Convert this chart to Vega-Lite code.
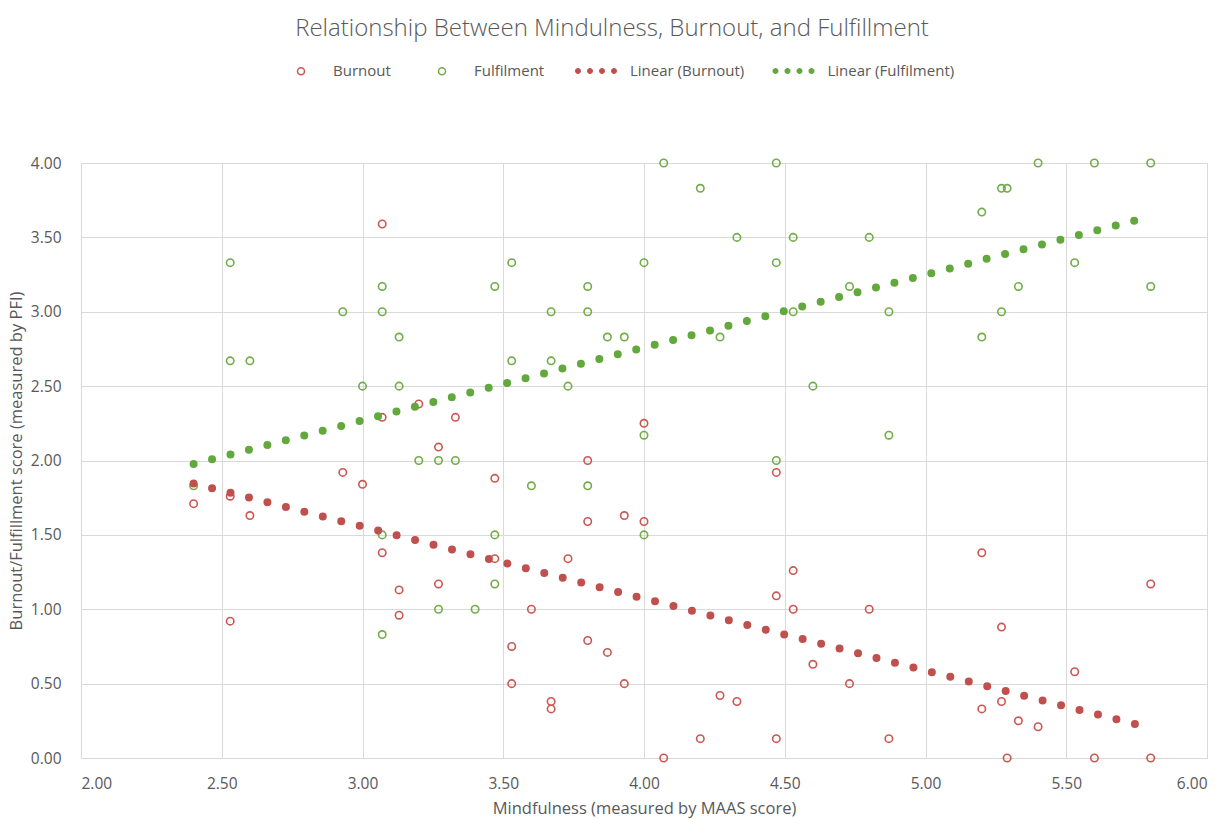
{
  "$schema": "https://vega.github.io/schema/vega-lite/v6.json",
  "width": 1126,
  "height": 595,
  "autosize": "none",
  "padding": {"left": 81, "top": 163, "right": 16, "bottom": 61},
  "background": "white",
  "title": {
    "text": "Relationship Between Mindulness, Burnout, and Fulfillment",
    "font": "Open Sans",
    "fontSize": 24,
    "fontWeight": 300,
    "color": "#595959",
    "anchor": "middle",
    "frame": "group",
    "dx": -32,
    "offset": 9
  },
  "datasets": {
    "burnout": [
      {"m": 2.40, "s": 1.71}, {"m": 2.53, "s": 1.76}, {"m": 2.53, "s": 0.92}, {"m": 2.60, "s": 1.63},
      {"m": 2.93, "s": 1.92}, {"m": 3.00, "s": 1.84}, {"m": 3.07, "s": 3.59}, {"m": 3.07, "s": 2.29},
      {"m": 3.07, "s": 1.38}, {"m": 3.13, "s": 1.13}, {"m": 3.13, "s": 0.96}, {"m": 3.20, "s": 2.38},
      {"m": 3.27, "s": 2.09}, {"m": 3.27, "s": 1.17}, {"m": 3.33, "s": 2.29}, {"m": 3.47, "s": 1.88},
      {"m": 3.47, "s": 1.34}, {"m": 3.53, "s": 0.75}, {"m": 3.53, "s": 0.50}, {"m": 3.60, "s": 1.00},
      {"m": 3.67, "s": 0.38}, {"m": 3.67, "s": 0.33}, {"m": 3.73, "s": 1.34}, {"m": 3.80, "s": 2.00},
      {"m": 3.80, "s": 1.59}, {"m": 3.80, "s": 0.79}, {"m": 3.87, "s": 0.71}, {"m": 3.93, "s": 1.63},
      {"m": 3.93, "s": 0.50}, {"m": 4.00, "s": 2.25}, {"m": 4.00, "s": 1.59}, {"m": 4.07, "s": 0.00},
      {"m": 4.20, "s": 0.13}, {"m": 4.27, "s": 0.42}, {"m": 4.33, "s": 0.38}, {"m": 4.47, "s": 1.92},
      {"m": 4.47, "s": 1.09}, {"m": 4.47, "s": 0.13}, {"m": 4.53, "s": 1.26}, {"m": 4.53, "s": 1.00},
      {"m": 4.60, "s": 0.63}, {"m": 4.73, "s": 0.50}, {"m": 4.80, "s": 1.00}, {"m": 4.87, "s": 0.13},
      {"m": 5.20, "s": 1.38}, {"m": 5.20, "s": 0.33}, {"m": 5.27, "s": 0.88}, {"m": 5.27, "s": 0.38},
      {"m": 5.29, "s": 0.00}, {"m": 5.33, "s": 0.25}, {"m": 5.40, "s": 0.21}, {"m": 5.53, "s": 0.58},
      {"m": 5.60, "s": 0.00}, {"m": 5.80, "s": 1.17}, {"m": 5.80, "s": 0.00}
    ],
    "fulfilment": [
      {"m": 2.40, "s": 1.83}, {"m": 2.53, "s": 3.33}, {"m": 2.53, "s": 2.67}, {"m": 2.60, "s": 2.67},
      {"m": 2.93, "s": 3.00}, {"m": 3.00, "s": 2.50}, {"m": 3.07, "s": 3.17}, {"m": 3.07, "s": 3.00},
      {"m": 3.07, "s": 1.50}, {"m": 3.07, "s": 0.83}, {"m": 3.13, "s": 2.83}, {"m": 3.13, "s": 2.50},
      {"m": 3.20, "s": 2.00}, {"m": 3.27, "s": 2.00}, {"m": 3.27, "s": 1.00}, {"m": 3.33, "s": 2.00},
      {"m": 3.40, "s": 1.00}, {"m": 3.47, "s": 3.17}, {"m": 3.47, "s": 1.50}, {"m": 3.47, "s": 1.17},
      {"m": 3.53, "s": 3.33}, {"m": 3.53, "s": 2.67}, {"m": 3.60, "s": 1.83}, {"m": 3.67, "s": 3.00},
      {"m": 3.67, "s": 2.67}, {"m": 3.73, "s": 2.50}, {"m": 3.80, "s": 3.17}, {"m": 3.80, "s": 3.00},
      {"m": 3.80, "s": 1.83}, {"m": 3.87, "s": 2.83}, {"m": 3.93, "s": 2.83}, {"m": 4.00, "s": 3.33},
      {"m": 4.00, "s": 2.17}, {"m": 4.00, "s": 1.50}, {"m": 4.07, "s": 4.00}, {"m": 4.20, "s": 3.83},
      {"m": 4.27, "s": 2.83}, {"m": 4.33, "s": 3.50}, {"m": 4.47, "s": 4.00}, {"m": 4.47, "s": 3.33},
      {"m": 4.47, "s": 2.00}, {"m": 4.53, "s": 3.50}, {"m": 4.53, "s": 3.00}, {"m": 4.60, "s": 2.50},
      {"m": 4.73, "s": 3.17}, {"m": 4.80, "s": 3.50}, {"m": 4.87, "s": 3.00}, {"m": 4.87, "s": 2.17},
      {"m": 5.20, "s": 3.67}, {"m": 5.20, "s": 2.83}, {"m": 5.27, "s": 3.83}, {"m": 5.29, "s": 3.83},
      {"m": 5.27, "s": 3.00}, {"m": 5.33, "s": 3.17}, {"m": 5.40, "s": 4.00}, {"m": 5.53, "s": 3.33},
      {"m": 5.60, "s": 4.00}, {"m": 5.80, "s": 4.00}, {"m": 5.80, "s": 3.17}
    ],
    "trend": [
      {"series": "Linear (Fulfilment)", "m": 2.40, "s": 1.976},
      {"series": "Linear (Fulfilment)", "m": 5.80, "s": 3.641},
      {"series": "Linear (Burnout)", "m": 2.40, "s": 1.846},
      {"series": "Linear (Burnout)", "m": 5.80, "s": 0.201}
    ]
  },
  "encoding": {
    "x": {
      "field": "m",
      "type": "quantitative",
      "scale": {"domain": [2, 6], "nice": false, "zero": false},
      "axis": {
        "title": "Mindfulness (measured by MAAS score)",
        "values": [2, 2.5, 3, 3.5, 4, 4.5, 5, 5.5, 6],
        "format": ".2f",
        "labelPadding": 18,
        "titlePadding": 9
      }
    },
    "y": {
      "field": "s",
      "type": "quantitative",
      "scale": {"domain": [0, 4], "nice": false},
      "axis": {
        "title": "Burnout/Fulfillment score (measured by PFI)",
        "values": [0, 0.5, 1, 1.5, 2, 2.5, 3, 3.5, 4],
        "format": ".2f",
        "labelPadding": 20,
        "titlePadding": 6
      }
    }
  },
  "layer": [
    {
      "data": {"name": "burnout"},
      "mark": {"type": "point", "filled": false, "size": 55, "strokeWidth": 1.6, "opacity": 1},
      "encoding": {
        "color": {
          "datum": "Burnout",
          "scale": {"domain": ["Burnout", "Fulfilment"], "range": ["#CC5752", "#70AD47"]},
          "legend": {
            "title": null,
            "orient": "none",
            "legendX": 212.5,
            "legendY": -99.5,
            "direction": "horizontal",
            "columns": 2,
            "padding": 0,
            "columnPadding": 43,
            "symbolType": "circle",
            "symbolSize": 49,
            "symbolStrokeWidth": 1.5,
            "symbolOffset": 0,
            "labelOffset": 24.5,
            "labelFont": "Open Sans",
            "labelFontSize": 15,
            "labelColor": "#595959"
          }
        }
      }
    },
    {
      "data": {"name": "fulfilment"},
      "mark": {"type": "point", "filled": false, "size": 55, "strokeWidth": 1.6, "opacity": 1},
      "encoding": {"color": {"datum": "Fulfilment"}}
    },
    {
      "data": {"name": "trend"},
      "mark": {"type": "line", "strokeCap": "round"},
      "encoding": {
        "strokeWidth": {"value": 8},
        "strokeDash": {"value": [0, 19.05]},
        "stroke": {
          "field": "series",
          "type": "nominal",
          "scale": {"domain": ["Linear (Burnout)", "Linear (Fulfilment)"], "range": ["#C0504D", "#62A83C"]},
          "legend": {
            "title": null,
            "orient": "none",
            "legendX": 494,
            "legendY": -113,
            "direction": "horizontal",
            "columns": 2,
            "padding": 0,
            "columnPadding": 27.5,
            "symbolType": "M-1,0a0.143,0.143 0 1,0 0.286,0a0.143,0.143 0 1,0 -0.286,0ZM-0.429,0a0.143,0.143 0 1,0 0.286,0a0.143,0.143 0 1,0 -0.286,0ZM0.143,0a0.143,0.143 0 1,0 0.286,0a0.143,0.143 0 1,0 -0.286,0ZM0.714,0a0.143,0.143 0 1,0 0.286,0a0.143,0.143 0 1,0 -0.286,0Z",
            "symbolSize": 1764,
            "symbolStrokeWidth": 0,
            "symbolOffset": 0,
            "labelOffset": 13,
            "labelFont": "Open Sans",
            "labelFontSize": 15,
            "labelColor": "#595959"
          }
        },
        "fill": {
          "field": "series",
          "type": "nominal",
          "scale": {"domain": ["Linear (Burnout)", "Linear (Fulfilment)"], "range": ["#C0504D", "#62A83C"]},
          "legend": {
            "title": null,
            "orient": "none",
            "legendX": 494,
            "legendY": -113,
            "direction": "horizontal",
            "columns": 2,
            "padding": 0,
            "columnPadding": 27.5,
            "symbolType": "M-1,0a0.143,0.143 0 1,0 0.286,0a0.143,0.143 0 1,0 -0.286,0ZM-0.429,0a0.143,0.143 0 1,0 0.286,0a0.143,0.143 0 1,0 -0.286,0ZM0.143,0a0.143,0.143 0 1,0 0.286,0a0.143,0.143 0 1,0 -0.286,0ZM0.714,0a0.143,0.143 0 1,0 0.286,0a0.143,0.143 0 1,0 -0.286,0Z",
            "symbolSize": 1764,
            "symbolStrokeWidth": 0,
            "symbolOffset": 0,
            "labelOffset": 13,
            "labelFont": "Open Sans",
            "labelFontSize": 15,
            "labelColor": "#595959"
          }
        }
      }
    }
  ],
  "config": {
    "view": {"stroke": null},
    "axis": {
      "grid": true,
      "gridColor": "#D9D9D9",
      "gridWidth": 1,
      "domainColor": "#D9D9D9",
      "domainWidth": 1,
      "ticks": false,
      "labelFont": "Open Sans",
      "labelFontSize": 15.5,
      "labelColor": "#595959",
      "titleFont": "Open Sans",
      "titleFontSize": 16.5,
      "titleFontWeight": "normal",
      "titleColor": "#595959"
    }
  }
}
